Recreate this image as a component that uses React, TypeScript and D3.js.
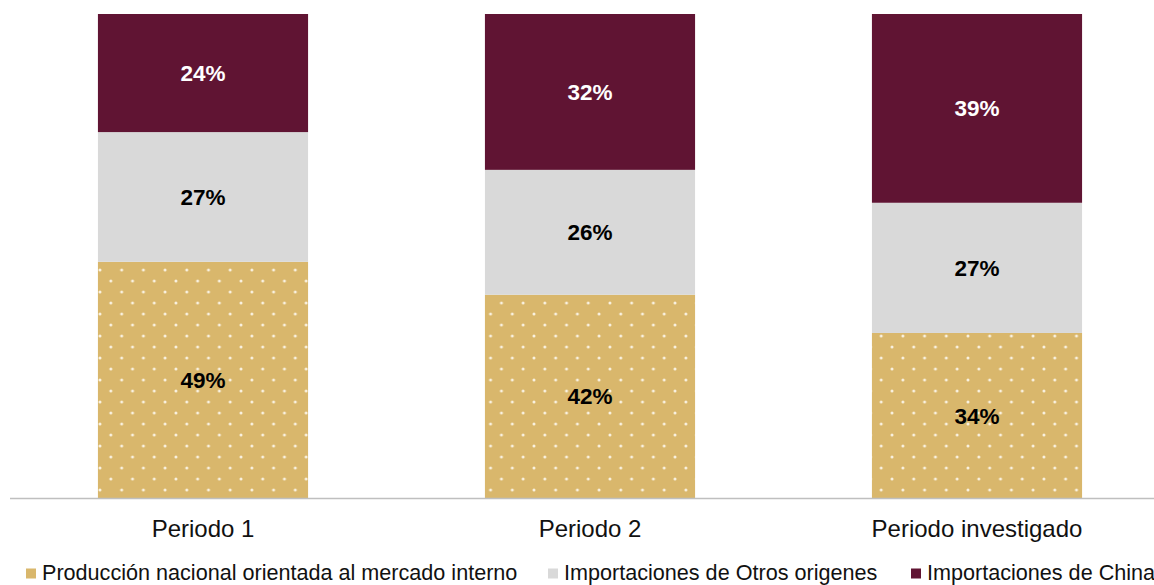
import React from "react";
import * as d3 from "d3";

const categories = ["Periodo 1", "Periodo 2", "Periodo investigado"];
const produccion = [48.8, 42.0, 34.1];
const otros = [26.8, 25.8, 26.9];
const china = [24.4, 32.2, 39.0];
const seriesNames = [
  "Producción nacional orientada al mercado interno",
  "Importaciones de Otros origenes",
  "Importaciones de China",
];

const W = 1154;
const H = 585;
const colors = ["#d9b76c", "#d9d9d9", "#601433"];
const labelColors = ["#000000", "#000000", "#ffffff"];
const font = "'Liberation Sans', Arial, sans-serif";

export default function App() {
  const x = d3
    .scaleBand<string>()
    .domain(categories)
    .range([9.5, 1170.5])
    .paddingInner(0.457)
    .paddingOuter(0.2285);
  const y = d3.scaleLinear().domain([0, 100]).range([498, 14]);

  const rows = categories.map((c, i) => ({
    cat: c,
    s0: produccion[i],
    s1: otros[i],
    s2: china[i],
  }));
  const stack = d3.stack<any>().keys(["s0", "s1", "s2"]);
  const layers = stack(rows);

  const legendX = [26, 548, 911];

  return (
    <svg
      width={W}
      height={H}
      style={{ position: "absolute", left: 0, top: 0, background: "#fff" }}
    >
      <defs>
        <pattern
          id="dots"
          patternUnits="userSpaceOnUse"
          x={100}
          y={270}
          width={21.7}
          height={22}
        >
          <rect width={21.7} height={22} fill={colors[0]} />
          <circle cx={0} cy={0} r={1.5} fill="#f9f1e0" />
          <circle cx={21.7} cy={0} r={1.5} fill="#f9f1e0" />
          <circle cx={0} cy={22} r={1.5} fill="#f9f1e0" />
          <circle cx={21.7} cy={22} r={1.5} fill="#f9f1e0" />
          <circle cx={10.85} cy={11} r={1.5} fill="#f9f1e0" />
        </pattern>
      </defs>
      {layers.map((layer, li) => (
        <g key={li}>
          {layer.map((d: any, i: number) => {
            const x0 = x(categories[i])!;
            const yTop = y(d[1]);
            const yBot = y(d[0]);
            const val = d[1] - d[0];
            return (
              <g key={i}>
                <rect
                  x={x0}
                  y={yTop}
                  width={x.bandwidth()}
                  height={yBot - yTop}
                  fill={li === 0 ? "url(#dots)" : colors[li]}
                />
                <text
                  x={x0 + x.bandwidth() / 2}
                  y={(yTop + yBot) / 2}
                  dy="0.36em"
                  textAnchor="middle"
                  fontFamily={font}
                  fontWeight="bold"
                  fontSize={22.5}
                  fill={labelColors[li]}
                >
                  {Math.round(val)}%
                </text>
              </g>
            );
          })}
        </g>
      ))}
      <line x1={10} x2={W} y1={498.5} y2={498.5} stroke="#bfbfbf" strokeWidth={1.5} />
      {categories.map((c) => (
        <text
          key={c}
          x={x(c)! + x.bandwidth() / 2}
          y={537}
          textAnchor="middle"
          fontFamily={font}
          fontSize={24}
          fill="#111"
        >
          {c}
        </text>
      ))}
      {seriesNames.map((n, i) => (
        <g key={n}>
          <rect x={legendX[i]} y={568.5} width={10} height={10} fill={colors[i]} />
          <text
            x={legendX[i] + 16}
            y={580}
            fontFamily={font}
            fontSize={21.6}
            fill="#111"
          >
            {n}
          </text>
        </g>
      ))}
    </svg>
  );
}
